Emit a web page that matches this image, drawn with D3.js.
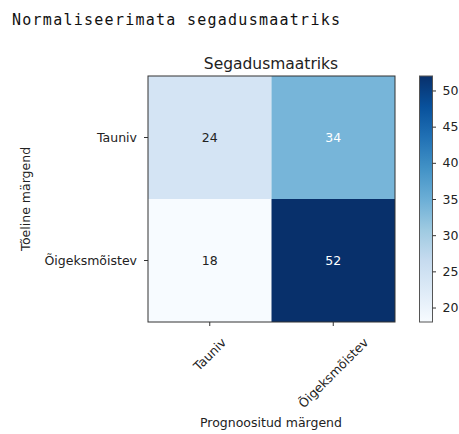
<!DOCTYPE html>
<html>
<head>
<meta charset="utf-8">
<script src="https://cdn.jsdelivr.net/npm/d3@7"></script>
<style>
  body { margin: 0; background: #fff; }
  svg { display: block; }
  text { font-family: "DejaVu Sans", sans-serif; fill: #222; }
</style>
</head>
<body>
<svg id="chart" width="459" height="434"></svg>
<script>
// data
const classes = ['Tauniv', 'Õigeksmõistev']
const matrix = [
  [24, 34],
  [18, 52],
]
const cbTicks = [20, 25, 30, 35, 40, 45, 50]
// matplotlib "Blues" stops
const blues = ['#f7fbff', '#deebf7', '#c6dbef', '#9ecae1', '#6baed6', '#4292c6', '#2171b5', '#08519c', '#08306b']

const svg = d3.select('#chart')

const vmin = d3.min(matrix.flat()), vmax = d3.max(matrix.flat())
const color = d3.scaleLinear()
  .domain(blues.map((c, i) => vmin + i * (vmax - vmin) / (blues.length - 1)))
  .range(blues)

const x = d3.scaleBand().domain(classes).range([148, 395])
const y = d3.scaleBand().domain(classes).range([76, 322])

// notebook-style header
svg.append('text')
  .attr('x', 12).attr('y', 25)
  .attr('textLength', 328)
  .style('font-family', '"DejaVu Sans Mono", monospace')
  .style('font-size', '15px')
  .style('fill', '#111')
  .text('Normaliseerimata segadusmaatriks')

// cells
const cells = matrix.flatMap((row, i) => row.map((v, j) => ({ r: classes[i], c: classes[j], v })))
const thresh = vmax / 2

svg.append('g')
  .selectAll('rect')
  .data(cells)
  .join('rect')
    .attr('x', d => x(d.c))
    .attr('y', d => y(d.r))
    .attr('width', x.bandwidth())
    .attr('height', y.bandwidth())
    .attr('fill', d => color(d.v))

svg.append('g')
  .selectAll('text')
  .data(cells)
  .join('text')
    .attr('x', d => x(d.c) + x.bandwidth() / 2)
    .attr('y', d => y(d.r) + y.bandwidth() / 2 + 4.5)
    .attr('text-anchor', 'middle')
    .style('font-size', '12.5px')
    .style('fill', d => d.v > thresh ? '#fff' : '#222')
    .text(d => d.v)

// frame
svg.append('rect')
  .attr('x', 148).attr('y', 76)
  .attr('width', 247).attr('height', 246)
  .attr('fill', 'none').attr('stroke', '#333').attr('stroke-width', 1)

// y axis
const yAxis = svg.append('g')
  .attr('transform', 'translate(148,0)')
  .call(d3.axisLeft(y).tickSize(4).tickPadding(7))
yAxis.select('.domain').remove()
yAxis.selectAll('line').attr('stroke', '#333')
yAxis.selectAll('text').style('font-size', '12.5px').style('font-family', '"DejaVu Sans", sans-serif').attr('fill', '#222')

// x axis with rotated labels, centred under each tick
const xAxis = svg.append('g')
  .attr('transform', 'translate(0,322)')
  .call(d3.axisBottom(x).tickSize(4))
xAxis.select('.domain').remove()
xAxis.selectAll('line').attr('stroke', '#333')
xAxis.selectAll('text')
  .style('font-size', '12.5px')
  .style('font-family', '"DejaVu Sans", sans-serif')
  .attr('fill', '#222')
  .attr('text-anchor', 'middle')
  .attr('dy', null)
  .attr('y', 0)
  .attr('dominant-baseline', 'central')
  .attr('transform', function() {
    const w = this.getComputedTextLength()
    const off = 15 + (w + 9) / (2 * Math.SQRT2)
    return `translate(0,${off}) rotate(-45)`
  })

// titles
svg.append('text')
  .attr('x', 271).attr('y', 69)
  .attr('text-anchor', 'middle')
  .style('font-size', '15.5px')
  .text('Segadusmaatriks')

svg.append('text')
  .attr('transform', `translate(30,${(76 + 322) / 2}) rotate(-90)`)
  .attr('text-anchor', 'middle')
  .style('font-size', '12.5px')
  .text('Tõeline märgend')

svg.append('text')
  .attr('x', 271).attr('y', 427)
  .attr('text-anchor', 'middle')
  .style('font-size', '12.5px')
  .text('Prognoositud märgend')

// colorbar
const cbY = d3.scaleLinear().domain([vmin, vmax]).range([322, 76])
const grad = svg.append('defs').append('linearGradient')
  .attr('id', 'cbgrad')
  .attr('x1', 0).attr('y1', 1).attr('x2', 0).attr('y2', 0)
grad.selectAll('stop')
  .data(color.domain())
  .join('stop')
    .attr('offset', d => (d - vmin) / (vmax - vmin))
    .attr('stop-color', d => color(d))

svg.append('rect')
  .attr('x', 419.5).attr('y', 76)
  .attr('width', 13).attr('height', 246)
  .attr('fill', 'url(#cbgrad)')
  .attr('stroke', '#555').attr('stroke-width', 1)

const cbAxis = svg.append('g')
  .attr('transform', 'translate(432.5,0)')
  .call(d3.axisRight(cbY).tickValues(cbTicks).tickSize(3.5).tickPadding(6.5))
cbAxis.select('.domain').remove()
cbAxis.selectAll('line').attr('stroke', '#333')
cbAxis.selectAll('text').style('font-size', '12.5px').style('font-family', '"DejaVu Sans", sans-serif').attr('fill', '#222')
</script>
</body>
</html>
